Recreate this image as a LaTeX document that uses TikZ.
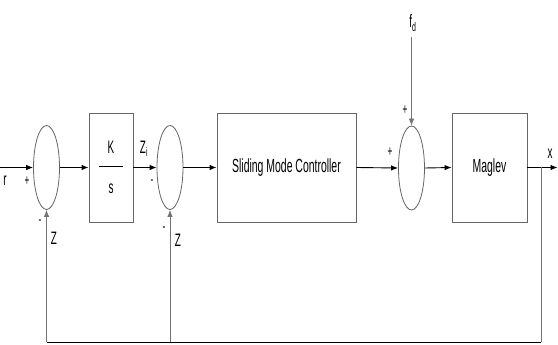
\documentclass[tikz,border=0pt]{standalone}
\usepackage{fontspec}
\setmainfont[FakeStretch=0.55]{Liberation Sans}
\usetikzlibrary{shapes.geometric,arrows.meta}

\tikzstyle{block} = [draw=black!60, line width=0.9pt, minimum height=109pt, inner sep=0pt, font=\fontsize{19}{22}\selectfont]
\tikzstyle{sum} = [draw=black!60, ellipse, line width=0.8pt, minimum width=26pt, minimum height=84pt, inner sep=0pt]
\tikzstyle{lbl} = [inner sep=0pt, font=\fontsize{18}{21}\selectfont]
\tikzstyle{sgn} = [inner sep=0pt, font=\fontsize{15}{17}\selectfont]
\tikzstyle{arr} = [-{Latex[length=7pt,width=5.5pt]}, line width=0.9pt]
\tikzstyle{fb} = [draw=black!55, line width=0.8pt]

\begin{document}
\begin{tikzpicture}[x=1pt, y=-1pt]
\useasboundingbox[fill=white] (0,0) rectangle (558,345);

% summing points and blocks
\node[sum] (s1) at (46.5,167.5) {};
\node[block, minimum width=44pt] (ks) at (111,167.5) {};
\node[sum] (s2) at (170,167.5) {};
\node[block, minimum width=139pt] (smc) at (286.5,167.5) {Sliding Mode Controller};
\node[sum] (s3) at (411.5,168) {};
\node[block, minimum width=75pt] (mag) at (489.5,167.5) {Maglev};

% K/s
\node[lbl] (k) at (111,147) {K};
\node[lbl] (s) at (111,189) {s};
\draw[line width=0.8pt] ([xshift=-12pt,yshift=1.5pt]ks.center) -- ([xshift=12pt,yshift=1.5pt]ks.center);

% free ends
\coordinate (in) at (0,167.5);
\coordinate (out) at (557.5,167.5);
\coordinate (br) at (541,167.5);
\coordinate (fd) at (411.5,37);
\coordinate (b1) at (46.5,342);
\coordinate (b2) at (170,342);
\coordinate (b3) at (541,342);

% forward path
\draw[arr] (in) -- (s1.west);
\draw[arr] (s1.east) -- (ks.west);
\draw[arr] (ks.east) -- (s2.west);
\draw[arr] (s2.east) -- (smc.west);
\draw[arr] (smc.east) -- (s3.west);
\draw[arr] (s3.east) -- (mag.west);
\draw[arr] (mag.east) -- (out);
\draw[arr, fb] (fd) -- (s3.north);

% feedback
\draw[fb] (br) -- (b3);
\draw[line width=0.9pt] (b3) -- (b1);
\draw[arr, fb] (b1) -- (s1.south);
\draw[arr, fb] (b2) -- (s2.south);

% labels
\node[lbl] (r) at (5,181) {r};
\node[sgn] (p1) at (27,181) {+};
\node[sgn] (m1) at (40,222) {-};
\node[lbl] (z1) at (54,238) {Z};
\node[lbl] (zi) at (144,149) {Z\textsubscript{i}};
\node[sgn] (m2) at (152,182) {-};
\node[sgn] (m3) at (164,229) {-};
\node[lbl] (z2) at (178,240) {Z};
\node[sgn] (p3) at (390,152) {+};
\node[sgn] (p4) at (405,110) {+};
\node[lbl] (f) at (413,23) {f\textsubscript{d}};
\node[lbl] (x) at (550,154) {x};
\end{tikzpicture}
\end{document}
